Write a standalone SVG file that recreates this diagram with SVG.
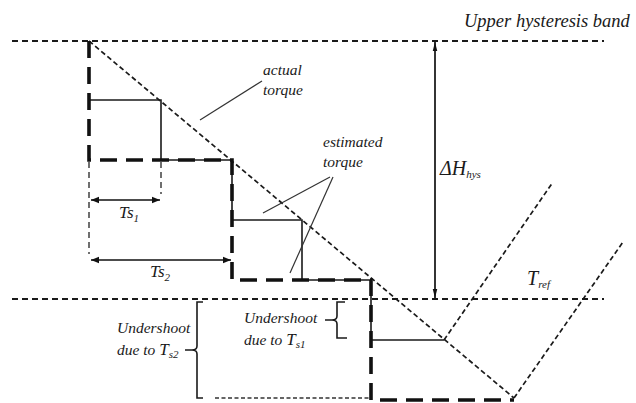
<svg xmlns="http://www.w3.org/2000/svg" width="636" height="403" viewBox="0 0 636 403">
<defs>
<style>
.band{stroke:#1a1a1a;stroke-width:2;stroke-dasharray:6 4;fill:none}
.diag{stroke:#1a1a1a;stroke-width:1.7;stroke-dasharray:5 3;fill:none}
.thick{stroke:#111;stroke-width:3.6;stroke-dasharray:17 9;fill:none}
.solid{stroke:#1a1a1a;stroke-width:1.6;fill:none}
.thin{stroke:#333;stroke-width:1.2;fill:none}
.tdash{stroke:#333;stroke-width:1.4;stroke-dasharray:6 4;fill:none}
.fdash{stroke:#333;stroke-width:1.4;stroke-dasharray:4 2.5;fill:none}
.arr{stroke:#111;stroke-width:1.7;fill:none}
text{font-family:"Liberation Serif","DejaVu Serif",serif;font-style:italic;fill:#1a1a1a}
.lbl{font-size:15.5px}
.big{font-size:20px}
.sub{font-size:11px}
</style>
<marker id="ah" viewBox="0 0 10 10" refX="10" refY="5" markerWidth="8" markerHeight="8" markerUnits="userSpaceOnUse" orient="auto-start-reverse">
<path d="M0,1 L10,5 L0,9 Z" fill="#111"/>
</marker>
<marker id="ahn" viewBox="0 0 10 10" refX="10" refY="5" markerWidth="12" markerHeight="9" markerUnits="userSpaceOnUse" orient="auto-start-reverse">
<path d="M0,2.5 L10,5 L0,7.5 Z" fill="#111"/>
</marker>
</defs>

<g id="bands">
<line class="band" x1="12" y1="41" x2="604" y2="41"/>
<line class="band" x1="12" y1="299" x2="604" y2="299"/>
</g>

<g id="actual-torque">
<path class="diag" d="M89,41 L514,398"/>
<path class="diag" d="M444,340 L553,182"/>
<path class="diag" d="M514,398 L623,242"/>
</g>

<g id="estimated-ts1">
<path class="solid" d="M89,100 H161 V160 H232 V220 H302 V280 H371 V340 H444"/>
</g>

<g id="estimated-ts2">
<path class="thick" d="M89,41 V160 H232 V280 H371 V400 H514"/>
</g>

<g id="connectors">
<line class="tdash" x1="89" y1="162" x2="89" y2="254"/>
<line class="tdash" x1="161" y1="162" x2="161" y2="194"/>
<line class="arr" x1="91" y1="200" x2="160" y2="200" marker-start="url(#ah)" marker-end="url(#ah)"/>
<line class="arr" x1="91" y1="260" x2="231" y2="260" marker-start="url(#ah)" marker-end="url(#ah)"/>
<line class="arr" x1="435" y1="42" x2="435" y2="298" marker-start="url(#ahn)" marker-end="url(#ahn)"/>
<line class="thin" x1="262" y1="81" x2="200" y2="120"/>
<line class="thin" x1="330" y1="177" x2="263" y2="213"/>
<line class="thin" x1="333" y1="177" x2="290" y2="273"/>
<path class="solid" d="M203,302 H197 V346 Q197,350 192,350 H185 M192,350 Q197,350 197,354 V398 H203"/>
<line class="fdash" x1="215" y1="398" x2="371" y2="398"/>
<path class="solid" d="M345,302 H337 V316 Q337,320 332,320 H325 M332,320 Q337,320 337,324 V338 H347"/>
</g>

<g id="labels">
<text x="464" y="27" font-size="18.5px">Upper hysteresis band</text>
<text class="lbl" x="263" y="75">actual</text>
<text class="lbl" x="263" y="95">torque</text>
<text class="lbl" x="323" y="147">estimated</text>
<text class="lbl" x="323" y="167">torque</text>
<text x="119" y="218"><tspan font-size="17px">Ts</tspan><tspan class="sub" dy="4">1</tspan></text>
<text x="150" y="277"><tspan font-size="17px">Ts</tspan><tspan class="sub" dy="4">2</tspan></text>
<text x="440" y="175"><tspan class="big">ΔH</tspan><tspan class="sub" dy="3">hys</tspan></text>
<text x="527" y="285"><tspan class="big">T</tspan><tspan class="sub" dy="3">ref</tspan></text>
<text class="lbl" x="117" y="333">Undershoot</text>
<text class="lbl" x="117" y="355">due to <tspan font-size="17px">T</tspan><tspan class="sub" dy="3">s2</tspan></text>
<text class="lbl" x="244" y="323">Undershoot</text>
<text class="lbl" x="244" y="345">due to <tspan font-size="17px">T</tspan><tspan class="sub" dy="3">s1</tspan></text>
</g>
</svg>
